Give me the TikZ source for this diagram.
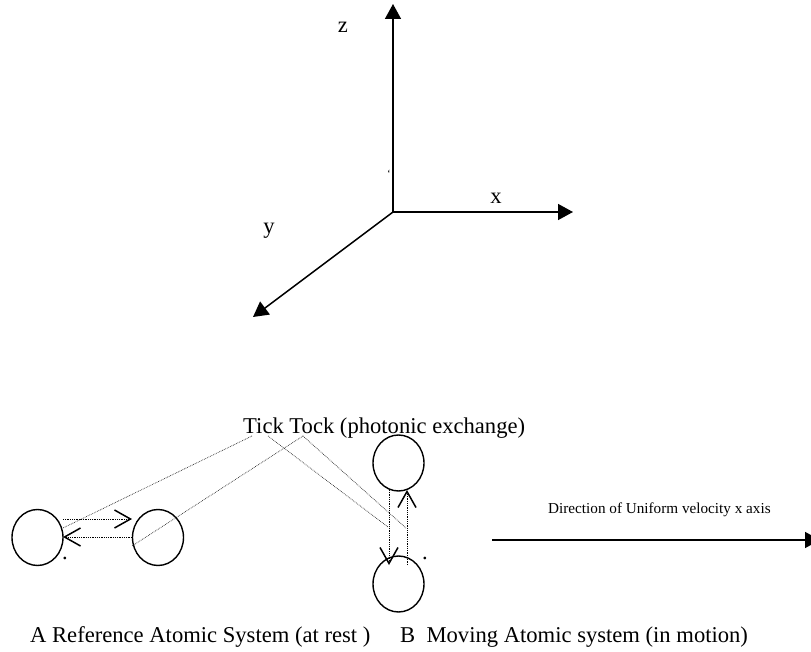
\documentclass[tikz,border=0pt]{standalone}
\usepackage{fontspec}
\setmainfont{Liberation Serif}
\usetikzlibrary{arrows.meta,shapes.geometric}
\begin{document}
\begin{tikzpicture}[x=1pt,y=-1pt,
  axis/.style={line width=1.5pt,-{Triangle[length=15pt,width=16pt]}},
  atom/.style={draw,line width=1.4pt,ellipse,minimum width=51pt,minimum height=56pt,inner sep=0pt},
  photon/.style={densely dotted,line width=0.8pt},
  ray/.style={densely dotted,line width=0.7pt,black!85},
  barb/.style={-{Straight Barb[length=16pt,width=18pt,line width=1.5pt]}},
  lbl/.style={font=\fontsize{22.6}{27}\selectfont,inner sep=0pt},
  small/.style={font=\fontsize{15.2}{18}\selectfont,inner sep=0pt}]
\useasboundingbox (0,0) rectangle (811,652);

% axes
\coordinate (O) at (393,212);
\coordinate (Zt) at (393,4);
\coordinate (Xt) at (573,212);
\coordinate (Yt) at (253,317);
\draw[axis] (O) -- (Zt);
\draw[axis] (O) -- (Xt);
\draw[axis] (O) -- (Yt);
\node[lbl,anchor=base] (zl) at (343,33) {z};
\node[lbl,anchor=base] (xl) at (496,204) {x};
\node[lbl,anchor=base] (yl) at (269,234) {y};
\node[inner sep=0pt,font=\fontsize{11}{12}\selectfont,anchor=north] (mk) at (389,170) {`};

% atoms
\node[atom] (A1) at (37.5,537.5) {};
\node[atom] (A2) at (158,537.5) {};
\node[atom] (B1) at (398.5,463) {};
\node[atom] (B2) at (398.5,584) {};
\node[lbl,anchor=base] (d1) at (65,559) {.};
\node[lbl,anchor=base] (d2) at (425,559) {.};

% tick tock label
\node[lbl,anchor=base west] (tt) at (243,433) {Tick Tock (photonic exchange)};
\coordinate (t1) at (252,436);
\coordinate (t2) at (268,436);
\coordinate (t3) at (303,436);
\coordinate (a1r) at (63,528);
\coordinate (a2l) at (132,546);
\coordinate (bL) at (388,527);
\coordinate (bR) at (406,528);
\draw[ray] (t1) -- (a1r);
\draw[ray] (t3) -- (a2l);
\draw[ray] (t2) -- (bL);
\draw[ray] (t3) -- (bR);

% photon exchange A
\coordinate (h1s) at (63,519);
\coordinate (h1e) at (132,519);
\coordinate (h2s) at (132,537);
\coordinate (h2e) at (63,537);
\draw[photon,barb] (h1s) -- (h1e);
\draw[photon,barb] (h2s) -- (h2e);

% photon exchange B
\coordinate (v1s) at (389,490);
\coordinate (v1e) at (389,565);
\coordinate (v2s) at (407,565);
\coordinate (v2e) at (407,490);
\draw[photon,barb] (v1s) -- (v1e);
\draw[photon,barb] (v2s) -- (v2e);

% direction arrow
\coordinate (ds) at (492,540);
\coordinate (de) at (820,540);
\draw[axis] (ds) -- (de);
\node[small,anchor=base west] (dl) at (548,513) {Direction of Uniform velocity x axis};

% captions
\node[lbl,anchor=base west] (capA) at (30,642) {A Reference Atomic System (at rest )};
\node[lbl,anchor=base west] (capB) at (400,642) {B\ \ Moving Atomic system (in motion)};
\end{tikzpicture}
\end{document}
